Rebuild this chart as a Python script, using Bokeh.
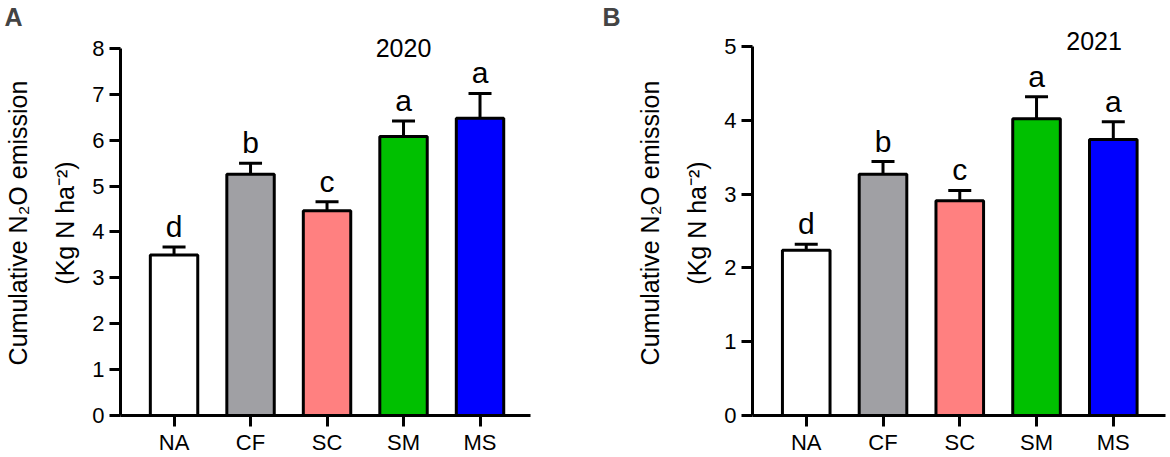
from bokeh.plotting import figure
from bokeh.layouts import row
from bokeh.models import ColumnDataSource, Whisker, TeeHead, FixedTicker, Range1d
from bokeh.core.properties import value
from bokeh.embed import file_html
from bokeh.resources import INLINE

FONT = "Liberation Sans"

categories = ["NA", "CF", "SC", "SM", "MS"]
bar_colors = ["#FFFFFF", "#A0A0A4", "#FF8080", "#00C000", "#0000FF"]

means_2020 = [3.50, 5.26, 4.46, 6.08, 6.48]
se_2020 = [0.17, 0.24, 0.20, 0.34, 0.54]
letters_2020 = ["d", "b", "c", "a", "a"]

means_2021 = [2.24, 3.27, 2.91, 4.02, 3.74]
se_2021 = [0.08, 0.17, 0.14, 0.30, 0.24]
letters_2021 = ["d", "b", "c", "a", "a"]

yticks_2020 = [0, 1, 2, 3, 4, 5, 6, 7, 8]
yticks_2021 = [0, 1, 2, 3, 4, 5]

y_title = "Cumulative N\u2082O emission\n(Kg N ha\u207B\u00B2)"


def make_panel(panel, year, means, se, letters, yticks, width, border_left,
               border_right, x_end, y_end, year_x, year_y):
    xs = list(range(len(categories)))
    upper = [m + s for m, s in zip(means, se)]
    src = ColumnDataSource(dict(x=xs, top=means, upper=upper, color=bar_colors,
                                letter=letters))
    p = figure(width=width, height=457, output_backend="svg", toolbar_location=None,
               x_range=Range1d(-0.70, x_end), y_range=Range1d(0, y_end),
               min_border_left=border_left, min_border_right=border_right,
               min_border_top=30, min_border_bottom=41)
    p.outline_line_color = None
    p.grid.visible = False
    p.background_fill_color = "white"
    p.border_fill_color = "white"

    p.vbar(x="x", top="top", width=0.62, bottom=0, source=src, fill_color="color",
           line_color="black", line_width=3)
    p.add_layout(Whisker(source=src, base="x", lower="top", upper="upper",
                         lower_head=None,
                         upper_head=TeeHead(size=23, line_width=3, line_color="black"),
                         line_width=3, line_color="black"))
    p.text(x="x", y="upper", text="letter", source=src, text_align="center",
           text_baseline="bottom", y_offset=-4, text_font=value(FONT),
           text_font_size="30px", text_color="black")

    p.text(x=[year_x], y=[year_y], text=[year], text_align="center",
           text_baseline="middle", text_font=value(FONT), text_font_size="25px",
           text_color="black")

    p.title.text = panel
    p.title.text_font = FONT
    p.title.text_font_style = "bold"
    p.title.text_font_size = "25px"
    p.title.align = "left"
    p.title.offset = -(border_left - 2)
    p.title.standoff = 0

    for ax in (p.xaxis[0], p.yaxis[0]):
        ax.axis_line_width = 3
        ax.axis_line_color = "black"
        ax.major_tick_line_width = 3
        ax.major_tick_line_color = "black"
        ax.major_tick_in = 0
        ax.major_tick_out = 11
        ax.minor_tick_line_color = None
        ax.major_label_text_font = FONT
        ax.major_label_text_font_size = "22px"
        ax.major_label_text_color = "black"

    p.xaxis.ticker = FixedTicker(ticks=xs)
    p.xaxis.major_label_overrides = {i: c for i, c in enumerate(categories)}
    p.xaxis.major_label_standoff = 3

    p.yaxis.ticker = FixedTicker(ticks=yticks)
    p.yaxis.bounds = (yticks[0], yticks[-1])
    p.yaxis.major_label_standoff = 5
    p.yaxis.axis_label = y_title
    p.yaxis.axis_label_text_font = FONT
    p.yaxis.axis_label_text_font_size = "25px"
    p.yaxis.axis_label_text_font_style = "normal"
    p.yaxis.axis_label_text_color = "black"
    p.yaxis.axis_label_text_line_height = 1.7
    p.yaxis.axis_label_standoff = 10
    return p


pa = make_panel("A", "2020", means_2020, se_2020, letters_2020, yticks_2020,
                width=600, border_left=118, border_right=70,
                x_end=4.66, y_end=8.391, year_x=3.0, year_y=8.02)
pb = make_panel("B", "2021", means_2021, se_2021, letters_2021, yticks_2021,
                width=570, border_left=152, border_right=5,
                x_end=4.68, y_end=5.216, year_x=3.75, year_y=5.08)

layout = row(pa, pb)
open("out.html", "w").write(file_html(layout, INLINE))
